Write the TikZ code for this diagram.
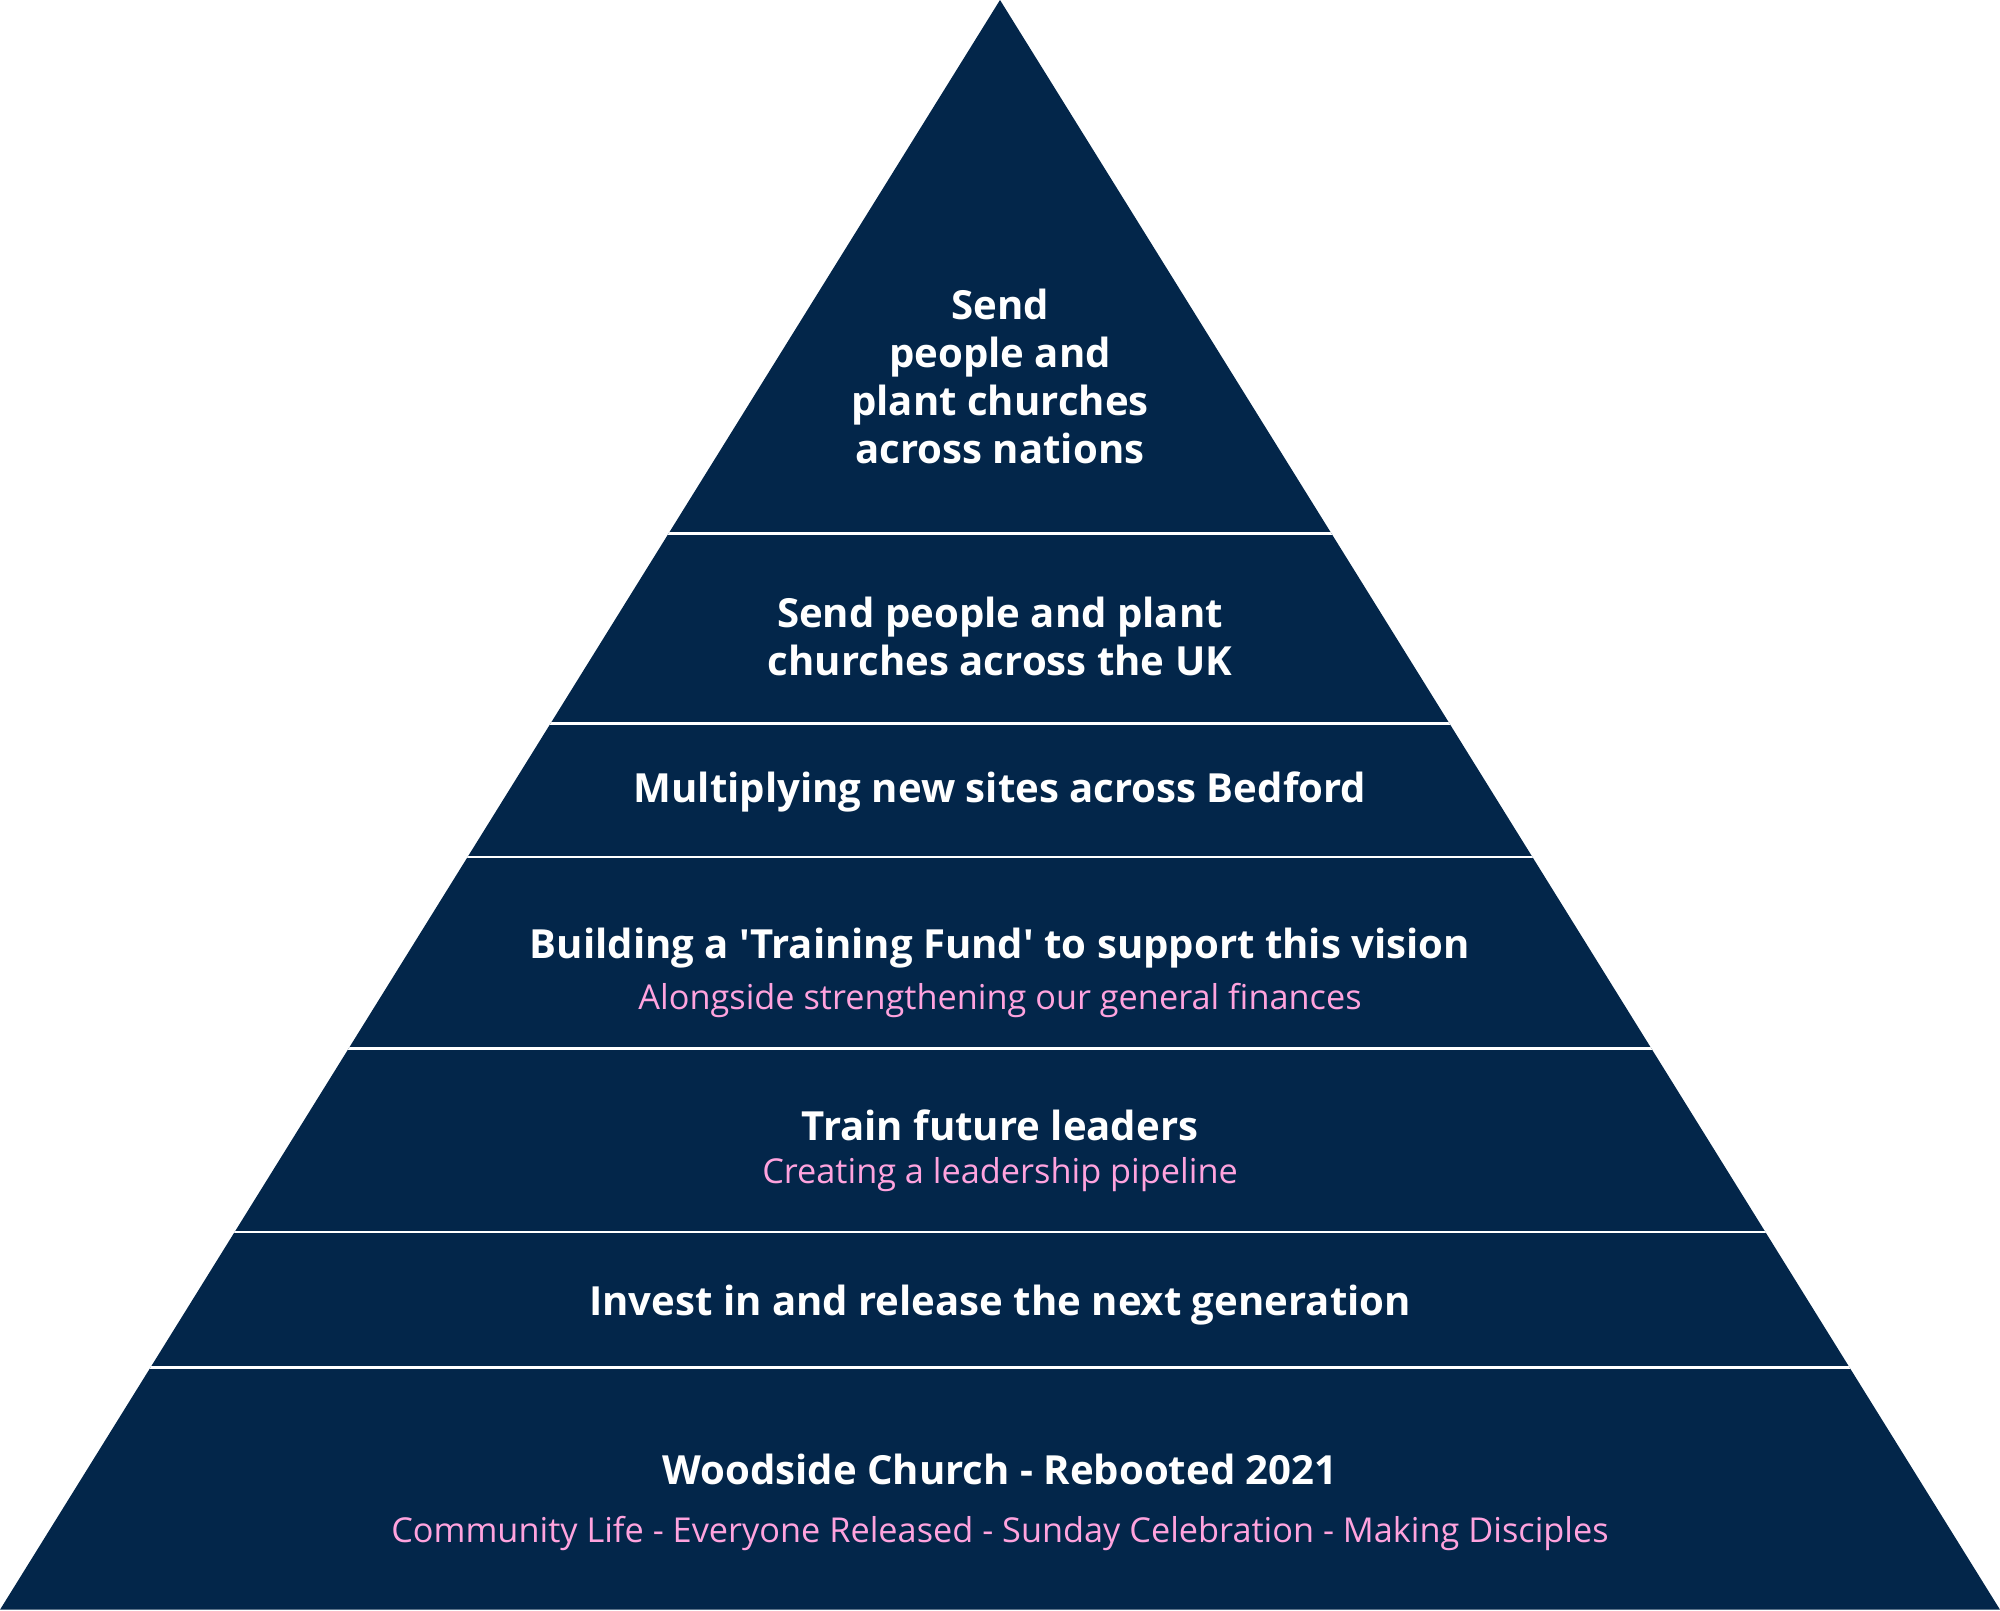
\documentclass[tikz,border=0pt]{standalone}
\usepackage{fontspec}
\setmainfont{Open Sans}
\definecolor{navy}{HTML}{03264A}
\definecolor{pinktext}{HTML}{FFA3DE}
\begin{document}
\begin{tikzpicture}[x=0.02cm,y=-0.02cm,
  head/.style={text=white,font=\fontsize{17.9}{21.5}\selectfont\bfseries,align=center},
  sub/.style={text=pinktext,font=\fontsize{15.3}{18}\selectfont}]
\useasboundingbox (0,0) rectangle (1568,1263);
\fill[navy] (784,0) -- (1568,1262) -- (0,1262) -- cycle;
\begin{scope}
\clip (784,0) -- (1568,1262) -- (0,1262) -- cycle;
\foreach \y in {418,567,672,822,966,1072} {
   \draw[white,line width=1.2pt] (0,\y) -- (1568,\y);
}
\end{scope}
\node[head] (nations) at (784,295) {Send\\people and\\plant churches\\across nations};
\node[head] (uk) at (784,499) {Send people and plant\\churches across the UK};
\node[head] (bedford) at (784,621) {Multiplying new sites across Bedford};
\node[head] (fund) at (784,743) {Building a \textquotesingle Training Fund\textquotesingle{} to support this vision};
\node[sub] (finances) at (784,784) {Alongside strengthening our general finances};
\node[head] (leaders) at (784,882) {Train future leaders};
\node[sub] (pipeline) at (784,921) {Creating a leadership pipeline};
\node[head] (nextgen) at (784,1023) {Invest in and release the next generation};
\node[head] (woodside) at (784,1152) {Woodside Church - Rebooted 2021};
\node[sub] (values) at (784,1202) {Community Life - Everyone Released - Sunday Celebration - Making Disciples};
\end{tikzpicture}
\end{document}
